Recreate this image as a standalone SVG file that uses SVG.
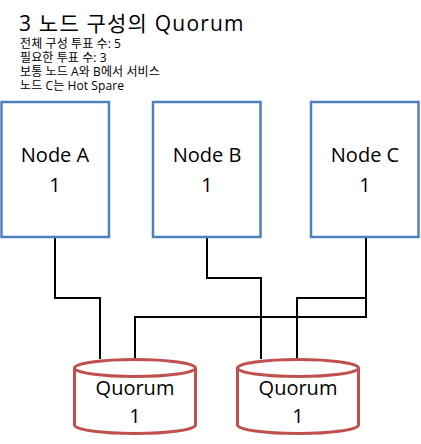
<svg xmlns="http://www.w3.org/2000/svg" width="421" height="444" viewBox="0 0 421 444">
<style>
text{font-family:"Open Sans","Noto Sans CJK KR",sans-serif;fill:#000}
.title{font-size:21px;letter-spacing:1.2px}
.sub{font-size:12px;letter-spacing:0.1px}
.lbl{font-size:20px;text-anchor:middle}
.node{fill:#fff;stroke:#4f81bd;stroke-width:2.5}
.cyl{fill:#fff;stroke:#c0504d;stroke-width:3}
.wire{fill:none;stroke:#000;stroke-width:2}
</style>
<rect width="421" height="444" fill="#fff"/>
<g id="title">
<text class="title" x="19" y="31">3 노드 구성의 Quorum</text>
<text class="sub" x="20" y="48">전체 구성 투표 수: 5</text>
<text class="sub" x="20" y="62">필요한 투표 수: 3</text>
<text class="sub" x="20" y="76">보통 노드 A와 B에서 서비스</text>
<text class="sub" x="20" y="90">노드 C는 Hot Spare</text>
</g>
<g id="connectors">
<polyline class="wire" points="55,237 55,298 100,298 100,359"/>
<polyline class="wire" points="207,237 207,278 261,278 261,359"/>
<polyline class="wire" points="366,237 366,317 135,317 135,359"/>
<polyline class="wire" points="366,298 297,298 297,359"/>
</g>
<g id="nodeA">
<rect class="node" x="1.5" y="102" width="107.5" height="135"/>
<text class="lbl" x="55" y="162">Node A</text>
<text class="lbl" x="55" y="192">1</text>
</g>
<g id="nodeB">
<rect class="node" x="153" y="102" width="107.5" height="135"/>
<text class="lbl" x="207" y="162">Node B</text>
<text class="lbl" x="207" y="192">1</text>
</g>
<g id="nodeC">
<rect class="node" x="311" y="102" width="107.5" height="135"/>
<text class="lbl" x="365" y="162">Node C</text>
<text class="lbl" x="365" y="192">1</text>
</g>
<g id="quorum1">
<path class="cyl" d="M74.5,368 A60.5,8.5 0 0 1 195.5,368 V425 A60.5,8.5 0 0 1 74.5,425 Z"/>
<path class="cyl" d="M74.5,368 A60.5,8.5 0 0 0 195.5,368"/>
<text class="lbl" x="135" y="395">Quorum</text>
<text class="lbl" x="135" y="423">1</text>
</g>
<g id="quorum2">
<path class="cyl" d="M237.5,368 A60.5,8.5 0 0 1 358.5,368 V425 A60.5,8.5 0 0 1 237.5,425 Z"/>
<path class="cyl" d="M237.5,368 A60.5,8.5 0 0 0 358.5,368"/>
<text class="lbl" x="298" y="395">Quorum</text>
<text class="lbl" x="298" y="423">1</text>
</g>
</svg>
